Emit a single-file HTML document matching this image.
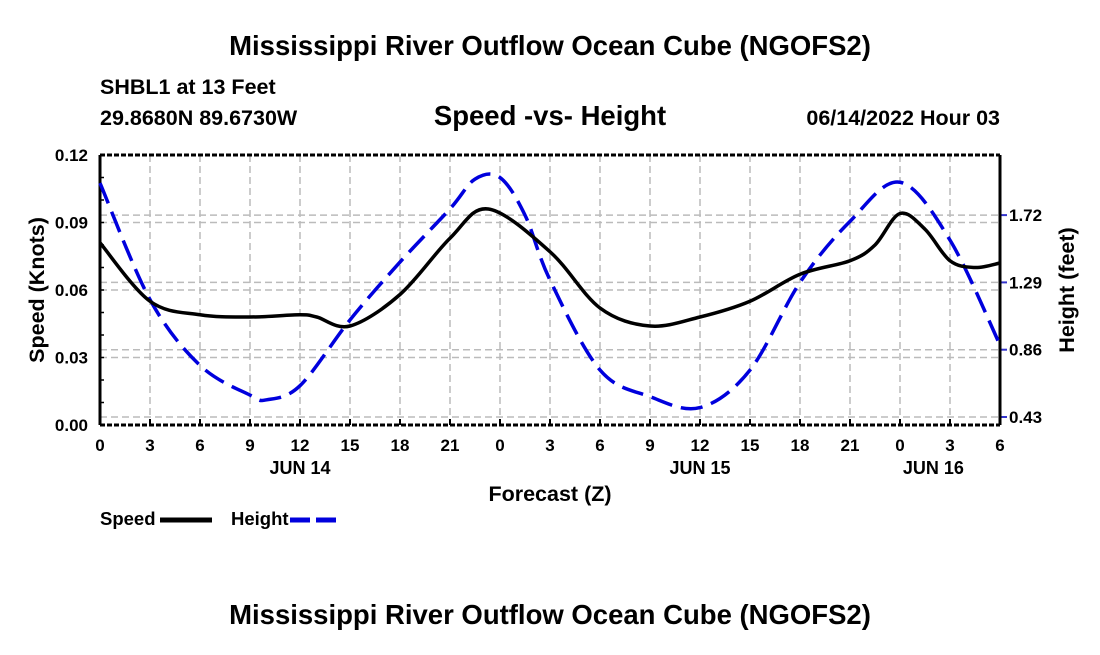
<!DOCTYPE html>
<html><head><meta charset="utf-8"><style>
body{margin:0;background:#fff;}
svg text{font-family:"Liberation Sans",Arial,sans-serif;font-weight:bold;fill:#000;}
</style></head><body>
<svg id="chart" width="1100" height="650" xmlns="http://www.w3.org/2000/svg">
<text x="550" y="55" font-size="27.5" text-anchor="middle">Mississippi River Outflow Ocean Cube (NGOFS2)</text>
<text x="100" y="94" font-size="21.5">SHBL1 at 13 Feet</text>
<text x="100" y="125" font-size="21.5">29.8680N  89.6730W</text>
<text x="550" y="125" font-size="27.5" text-anchor="middle">Speed -vs- Height</text>
<text x="1000" y="125" font-size="21.5" text-anchor="end">06/14/2022 Hour 03</text>
<g id="grid"></g>
<g id="axes"></g>
<g id="series"></g>
<text transform="translate(44,290) rotate(-90)" font-size="21.5" text-anchor="middle">Speed (Knots)</text>
<text transform="translate(1074,290) rotate(-90)" font-size="21.5" text-anchor="middle">Height (feet)</text>
<text x="550" y="501" font-size="21.5" text-anchor="middle">Forecast (Z)</text>
<g>
<text x="100" y="525" font-size="18.5">Speed</text>
<line x1="160" y1="520" x2="212" y2="520" stroke="#000" stroke-width="5"/>
<text x="231" y="525" font-size="18.5">Height</text>
<line x1="290" y1="520" x2="342" y2="520" stroke="#0000dd" stroke-width="5" stroke-dasharray="20,6"/>
</g>
<text x="550" y="624" font-size="27.5" text-anchor="middle">Mississippi River Outflow Ocean Cube (NGOFS2)</text>
</svg>
<script>
const hourLabels=["0","3","6","9","12","15","18","21","0","3","6","9","12","15","18","21","0","3","6"];
const dayLabels=["JUN 14","JUN 15","JUN 16"];
const dayHours=[12,36,50];
const speedTicks=[0,0.03,0.06,0.09,0.12];
const heightTicks=[0.43,0.86,1.29,1.72];
const speedHours=[0,3,6,9,12,13,15,18,21,23.3,27,30,33,36,39,42,45,46.5,48,49.5,51,52.5,54];
const speedVals=[0.081,0.055,0.049,0.048,0.049,0.048,0.044,0.058,0.083,0.096,0.077,0.052,0.044,0.048,0.055,0.067,0.073,0.080,0.094,0.087,0.073,0.070,0.072];
const heightHours=[0,3,6,9,10,12,15,18,21,22.5,24,25.5,27,30,33,36,39,42,45,48,51,54];
const heightVals=[1.925,1.18,0.76,0.57,0.54,0.63,1.05,1.42,1.76,1.95,1.96,1.72,1.305,0.73,0.56,0.49,0.73,1.29,1.68,1.93,1.56,0.89];
const X0=100,X1=1000,Y0=425,Y1=155;
const xs=h=>X0+(h/54)*(X1-X0);
const ys=v=>Y0-(v/0.12)*(Y0-Y1);
const yh=v=>417-(v-0.43)/0.43*67.3;
const NS="http://www.w3.org/2000/svg";
function mk(tag,attrs,parent,txt){const e=document.createElementNS(NS,tag);for(const k in attrs)e.setAttribute(k,attrs[k]);if(txt!==undefined)e.textContent=txt;parent.appendChild(e);return e;}
const grid=document.getElementById('grid'),axes=document.getElementById('axes'),series=document.getElementById('series');
hourLabels.forEach((l,i)=>{const x=xs(i*3);
 if(i>0&&i<18){const g=mk('line',{x1:x,y1:Y1,x2:x,y2:Y0,stroke:'#bbb','stroke-width':1.5,'stroke-dasharray':'7,4'},grid);
 }
 const tk=mk('line',{x1:x,y1:Y0,x2:x,y2:Y0-6,stroke:'#000','stroke-width':2},axes);
 
 const t=mk('text',{x:x,y:451,'font-size':17,'text-anchor':'middle'},axes,l);
 });
dayLabels.forEach((l,i)=>{const t=mk('text',{x:xs(dayHours[i]),y:474,'font-size':18,'text-anchor':'middle'},axes,l);
 });
speedTicks.forEach(v=>{const y=ys(v);
 if(v>0&&v<0.12){const g=mk('line',{x1:X0,y1:y,x2:X1,y2:y,stroke:'#bbb','stroke-width':1.5,'stroke-dasharray':'7,4'},grid);
 }
 const t=mk('text',{x:88,y:y+6,'font-size':17,'text-anchor':'end'},axes,v.toFixed(2));
 });
for(let v=0.01;v<0.12;v+=0.01){const y=ys(v);const tk=mk('line',{x1:X0,y1:y,x2:X0+4,y2:y,stroke:'#000','stroke-width':1.5},axes);
 }
heightTicks.forEach(v=>{const y=yh(v);
 const g=mk('line',{x1:X0,y1:y,x2:X1,y2:y,stroke:'#bbb','stroke-width':1.5,'stroke-dasharray':'7,4'},grid);
 
 const tk=mk('line',{x1:X1,y1:y,x2:X1+7,y2:y,stroke:'#3333cc','stroke-width':2},axes);
 
 const t=mk('text',{x:1009,y:y+6,'font-size':17},axes,v.toFixed(2));
 });
[['line',{x1:X0,y1:Y1,x2:X0,y2:Y0,stroke:'#000','stroke-width':3}],['line',{x1:X1,y1:Y1,x2:X1,y2:Y0,stroke:'#000','stroke-width':3}],
 ['line',{x1:X0,y1:Y0,x2:X1,y2:Y0,stroke:'#000','stroke-width':3,'stroke-dasharray':'5,2'}],['line',{x1:X0,y1:Y1,x2:X1,y2:Y1,stroke:'#000','stroke-width':3,'stroke-dasharray':'5,2'}]].forEach(a=>{
 const e=mk(a[0],a[1],axes);});
function smooth(pts){let d=`M${pts[0][0]},${pts[0][1]}`;
 for(let i=0;i<pts.length-1;i++){const p0=pts[Math.max(0,i-1)],p1=pts[i],p2=pts[i+1],p3=pts[Math.min(pts.length-1,i+2)];
 const c1=[p1[0]+(p2[0]-p0[0])/6,p1[1]+(p2[1]-p0[1])/6],c2=[p2[0]-(p3[0]-p1[0])/6,p2[1]-(p3[1]-p1[1])/6];
 d+=` C${c1[0]},${c1[1]} ${c2[0]},${c2[1]} ${p2[0]},${p2[1]}`;}return d;}
const hp=mk('path',{d:smooth(heightHours.map((h,i)=>[xs(h),yh(heightVals[i])])),fill:'none',stroke:'#0000dd','stroke-width':3.5,'stroke-dasharray':'22,9'},series);

const sp=mk('path',{d:smooth(speedHours.map((h,i)=>[xs(h),ys(speedVals[i])])),fill:'none',stroke:'#000','stroke-width':3.5},series);

</script>
</body></html>
